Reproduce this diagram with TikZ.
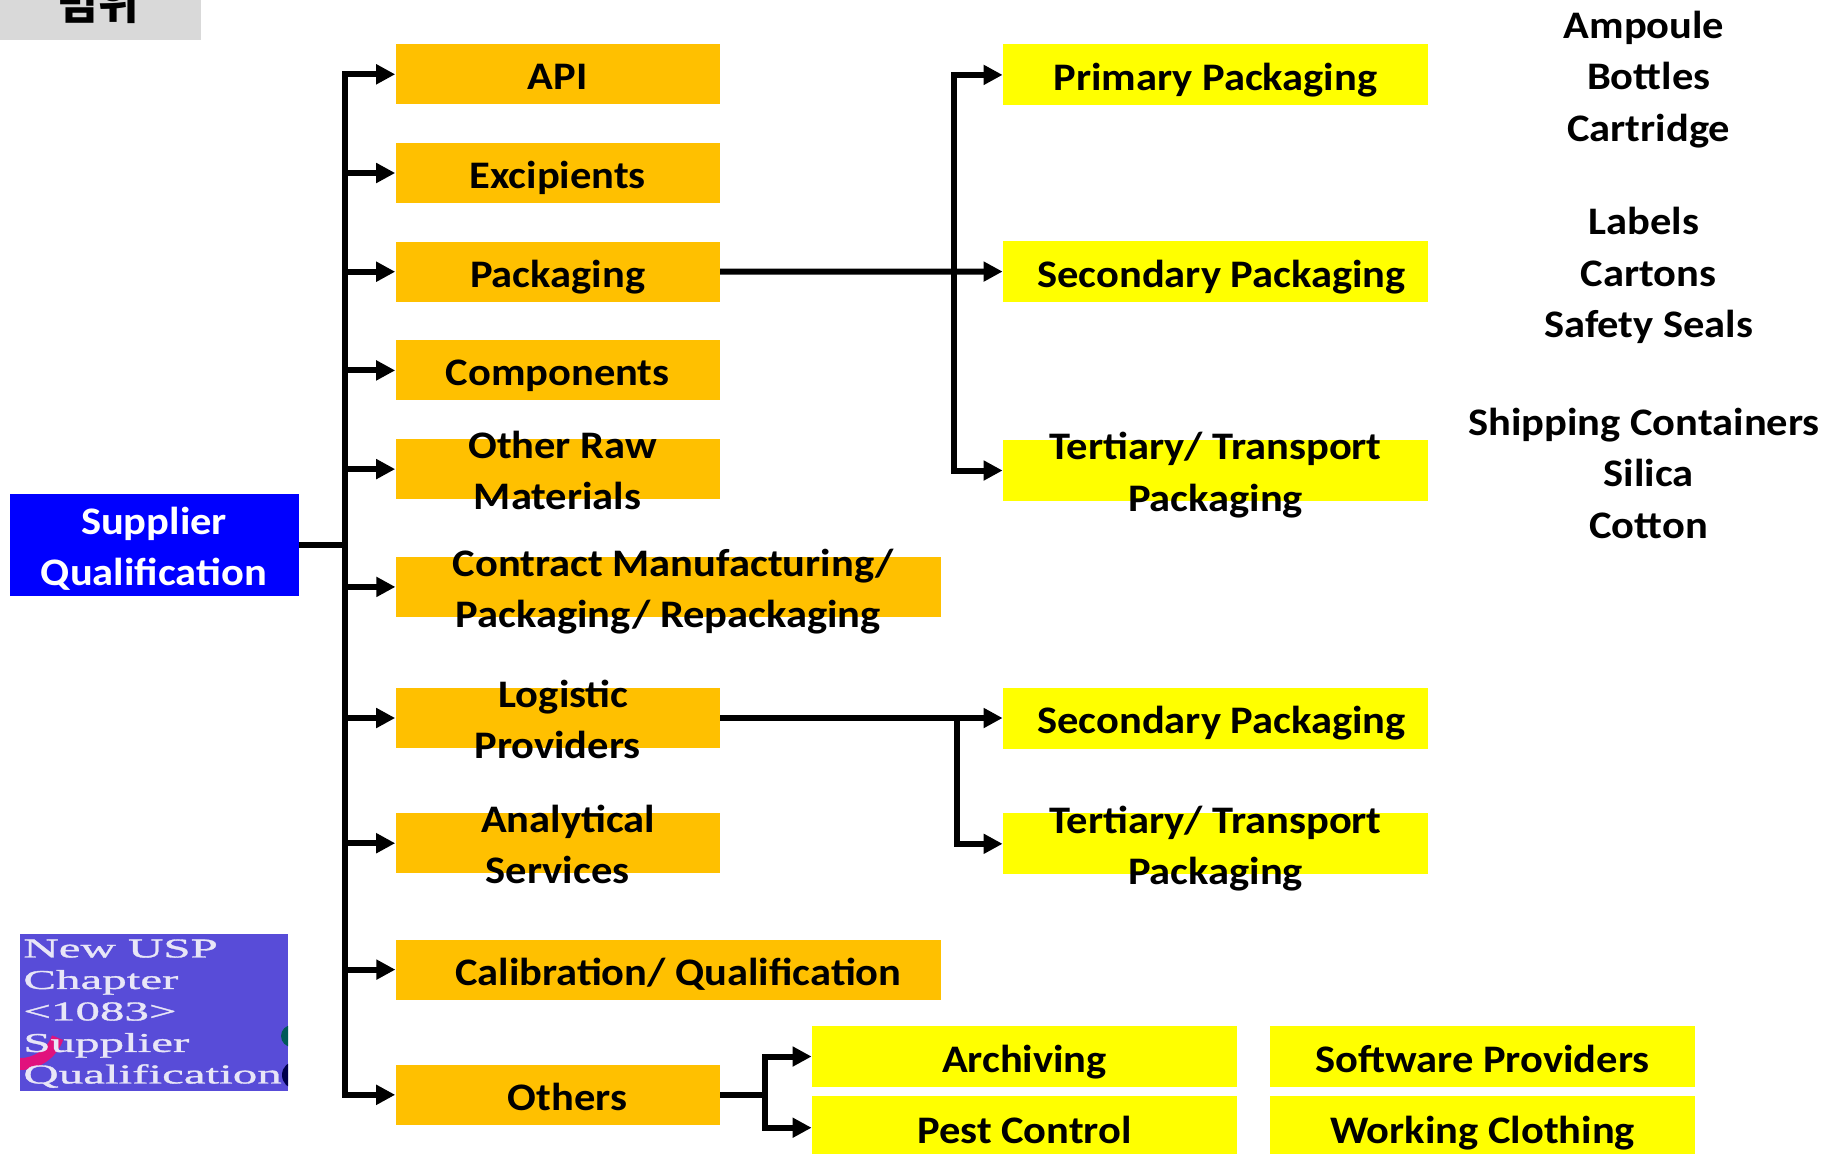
\documentclass[tikz,border=0pt]{standalone}
\usepackage{fontspec}
\setmainfont{Carlito}[FakeStretch=1.09]
\newfontfamily\krfont{Noto Sans CJK KR}
\newfontfamily\uspfont{Liberation Serif}[FakeStretch=1.8, FakeBold=1.2]
\usetikzlibrary{arrows.meta,positioning}
\definecolor{catorange}{RGB}{255,192,0}
\definecolor{subyellow}{RGB}{255,255,0}
\definecolor{rootblue}{RGB}{0,0,255}
\definecolor{titlegray}{RGB}{217,217,217}
\definecolor{uspviolet}{RGB}{88,76,216}
\definecolor{usplilac}{RGB}{232,230,247}

\begin{document}
\begin{tikzpicture}[x=0.5pt, y=-0.5pt, node distance=49.35pt,
    every node/.style={font=\fontsize{19.5}{25.75}\selectfont\bfseries, inner sep=0pt},
    catbox/.style={rectangle, fill=catorange, minimum width=162pt, minimum height=30pt, text height=19pt, text depth=3.5pt},
    widebox/.style={catbox, minimum width=272.5pt},
    subbox/.style={rectangle, fill=subyellow, minimum width=212.5pt, minimum height=30.5pt, text height=19pt, text depth=3.5pt},
    rootbox/.style={rectangle, fill=rootblue, minimum width=144.5pt, minimum height=51pt},
    txt/.style={align=center, yshift=-2.9pt, execute at begin node={\rule{0pt}{20pt}}, execute at end node={\rule[-4.5pt]{0pt}{4.5pt}}},
    link/.style={line width=3pt, -{Triangle[length=9.5pt,width=9.5pt]}},
    bar/.style={line width=3pt}]

    \useasboundingbox (0,0) rectangle (1835,1153);

    % heading tab, cut at the top edge
    \node[fill=titlegray, minimum width=100.5pt, minimum height=20pt, anchor=north west] (title) at (0,0) {};
    \begin{scope}
        \clip (0,0) rectangle (201,40);
        \node[font=\krfont\bfseries\fontsize{22}{24}\selectfont, anchor=base] (title-t) at (98,19) {범위};
    \end{scope}

    \node[rootbox] (sq) at (154,545) {};
    \node[txt, text=white] (sq-t) at (sq) {Supplier\\Qualification};

    % first level
    \node[catbox] (api) at (557.6,74.3) {API};
    \node[catbox, below of=api] (exc) {Excipients};
    \node[catbox, below of=exc] (pack) {Packaging};
    \node[catbox, below of=pack] (comp) {Components};
    \node[catbox, below of=comp] (raw) {};
    \node[txt] (raw-t) at (raw) {\hspace*{5pt}Other Raw\\Materials};
    \node[widebox] (cmo) at (668.3,586.9) {};
    \node[txt] (cmo-t) at (cmo) {\hspace*{5pt}Contract Manufacturing/\\Packaging/ Repackaging};
    \node[catbox] (logi) at (557.6,718) {};
    \node[txt] (logi-t) at (logi) {\hspace*{6pt}Logistic\\Providers};
    \node[catbox] (anal) at (557.6,843.2) {};
    \node[txt] (anal-t) at (anal) {\hspace*{10.5pt}Analytical\\Services};
    \node[widebox] (calib) at (668.3,969.6) {\hspace*{10pt}Calibration/ Qualification};
    \node[catbox] (oth) at (557.6,1094.8) {\hspace*{10pt}Others};

    % second level
    \node[subbox] (prim) at (1215.5,74.9) {Primary Packaging};
    \node[subbox] (sec) at (1215.5,271.5) {\hspace*{6pt}Secondary Packaging};
    \node[subbox] (tert) at (1215.5,470.5) {};
    \node[txt] (tert-t) at (tert) {Tertiary/ Transport\\Packaging};
    \node[subbox] (lsec) at (1215.5,718) {\hspace*{6pt}Secondary Packaging};
    \node[subbox] (ltert) at (1215.5,843.8) {};
    \node[txt] (ltert-t) at (ltert) {Tertiary/ Transport\\Packaging};
    \node[subbox] (arch) at (1024.5,1056.5) {Archiving};
    \node[subbox, minimum height=32pt] (pest) at (1024.5,1128) {Pest Control};
    \node[subbox] (soft) at (1482.5,1056.5) {Software Providers};
    \node[subbox, minimum height=32pt] (cloth) at (1482.5,1128) {Working Clothing};

    % examples per packaging level
    \node[txt] (prim-l) at (1648.7,74.9) {\hspace*{-4.7pt}Ampoule\\Bottles\\Cartridge};
    \node[txt] (sec-l) at (1648.7,271.5) {\hspace*{-4.7pt}Labels\\Cartons\\Safety Seals};
    \node[txt] (tert-l) at (1648.7,471.6) {\hspace*{-4.7pt}Shipping Containers\\Silica\\Cotton};

    % main tree
    \coordinate (trunk) at (345,545);
    \draw[bar] (sq.east) -- (trunk);
    \draw[link] (trunk) |- (api);
    \draw[link] (trunk) |- (exc);
    \draw[link] (trunk) |- (pack);
    \draw[link] (trunk) |- (comp);
    \draw[link] (trunk) |- (raw);
    \draw[link] (trunk) |- (cmo);
    \draw[link] (trunk) |- (logi);
    \draw[link] (trunk) |- (anal);
    \draw[link] (trunk) |- (calib);
    \draw[link] (trunk) |- (oth);

    % packaging branch
    \coordinate (pk) at (954,271.5);
    \draw[link] (pack) -- (sec);
    \draw[link] (pk) |- (prim);
    \draw[link] (pk) |- (tert);

    % logistic branch
    \coordinate (lg) at (957,718);
    \draw[link] (logi) -- (lsec);
    \draw[link] (lg) |- (ltert);

    % others branch
    \coordinate (ot) at (765,1094.8);
    \draw[bar] (oth) -- (ot);
    \draw[link] (ot) |- (arch);
    \draw[link] (ot) |- (pest.west |- 0,1127.7);

    % cover thumbnail
    \node[fill=uspviolet, minimum width=134pt, minimum height=78.5pt, anchor=north west] (usp) at (20,934) {};
    \begin{scope}
        \clip (20,934) rectangle (288,1091);
        \draw[magenta!75!purple, line width=6pt] (20,1064) arc (90:20:40);
        \fill[teal!70!black] (292,1036) circle (11);
        \fill[blue!30!black] (296,1075) circle (14);
    \end{scope}
    \node[font=\uspfont\fontsize{13.6}{15.75}\selectfont, text=usplilac, align=left, anchor=north west] (usp-t) at (23,939) {New USP\\Chapter\\<1083>\\Supplier\\Qualification};
\end{tikzpicture}
\end{document}
